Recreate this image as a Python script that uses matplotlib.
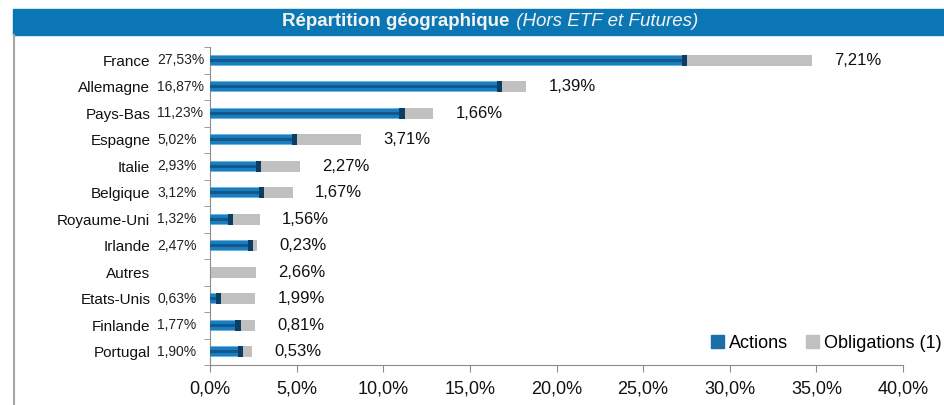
import numpy as np
import matplotlib
matplotlib.use("Agg")
import matplotlib.pyplot as plt
from matplotlib.patches import Rectangle, Patch
from matplotlib.lines import Line2D

plt.rcParams["font.family"] = ["Liberation Sans", "DejaVu Sans"]

# données (%)
categories = ["France", "Allemagne", "Pays-Bas", "Espagne", "Italie", "Belgique",
              "Royaume-Uni", "Irlande", "Autres", "Etats-Unis", "Finlande", "Portugal"]
actions = [27.53, 16.87, 11.23, 5.02, 2.93, 3.12, 1.32, 2.47, 0.0, 0.63, 1.77, 1.90]
obligations = [7.21, 1.39, 1.66, 3.71, 2.27, 1.67, 1.56, 0.23, 2.66, 1.99, 0.81, 0.53]
x_ticks = [0, 5, 10, 15, 20, 25, 30, 35, 40]

W, H = 944, 405
fig = plt.figure(figsize=(W / 100, H / 100), dpi=100)
ax = fig.add_axes([210 / W, 1 - 365 / H, 693 / W, 318 / H])

y = np.arange(len(categories))
act = np.array(actions)
obl = np.array(obligations)
h = 0.42

# barres "Actions" avec effet cylindre
ax.barh(y, act, height=h, color="#6db6e3", zorder=2)
ax.barh(y, act, height=h * 0.8, color="#1b7dbd", zorder=3)
ax.barh(y, act, height=h * 0.3, color="#11598c", zorder=4)
has_act = act > 0
ax.barh(y[has_act], 0.3, left=act[has_act] - 0.3, height=h, color="#0c3d63", zorder=5)

# barres "Obligations"
ax.barh(y, obl, left=act, height=h, color="#c0c0c0", zorder=2)

# étiquettes
for yi, a, o in zip(y, act, obl):
    if a > 0:
        ax.annotate(f"{a:.2f}".replace(".", ",") + "%", xy=(-53 / 693, yi),
                    xycoords=("axes fraction", "data"), ha="left", va="center",
                    fontsize=10, color="#222222", annotation_clip=False)
    ax.annotate(f"{o:.2f}".replace(".", ",") + "%", xy=(a + o, yi),
                xytext=(16, 0), textcoords="offset points", ha="left", va="center",
                fontsize=12, color="#111111")

ax.set_xlim(0, 40)
ax.set_ylim(len(categories) - 0.5, -0.5)
ax.set_xticks(x_ticks, [f"{v:.1f}".replace(".", ",") + "%" for v in x_ticks])
ax.set_yticks(y, categories)
ax.set_yticks(np.arange(len(categories) + 1) - 0.5, minor=True)
ax.tick_params(axis="y", which="major", length=0, pad=43, labelsize=11, labelcolor="#111111")
ax.tick_params(axis="y", which="minor", length=4, color="#8c8c8c", direction="out")
ax.tick_params(axis="x", length=5, color="#8c8c8c", pad=6, labelsize=13, labelcolor="#111111")

for s in ["top", "right"]:
    ax.spines[s].set_visible(False)
for s in ["left", "bottom"]:
    ax.spines[s].set_color("#8c8c8c")

handles = [Patch(color="#1a6fa8"), Patch(color="#c0c0c0")]
fig.legend(handles, ["Actions", "Obligations (1)"], loc="center right",
           bbox_to_anchor=(942 / W, 1 - 343 / H), ncol=2, frameon=False,
           fontsize=13, handlelength=0.7, handleheight=0.7, handletextpad=0.3,
           columnspacing=1.0, borderaxespad=0, borderpad=0)

# bandeau du titre et cadre gauche
fig.patches.append(Rectangle((13 / W, 1 - 35 / H), 1 - 13 / W, 26 / H,
                             transform=fig.transFigure, color="#0a77b4", zorder=0))
fig.lines.append(Line2D([14 / W, 14 / W], [0, 1 - 35 / H], transform=fig.transFigure,
                        color="#a6a6a6", lw=1.5))
fig.text(509 / W, 1 - 22 / H, "Répartition géographique", ha="right", va="center",
         fontsize=13.5, fontweight="bold", color="#f2f2f2")
fig.text(511 / W, 1 - 22 / H, " (Hors ETF et Futures)", ha="left", va="center",
         fontsize=13.5, fontstyle="italic", color="#f2f2f2")

fig.savefig("out.png", dpi=100)
